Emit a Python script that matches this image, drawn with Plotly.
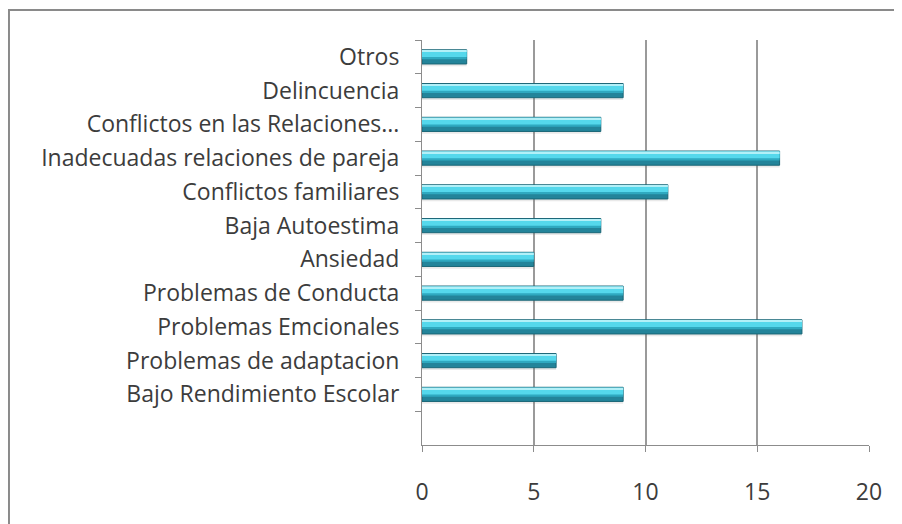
import plotly.graph_objects as go

categories = ["Bajo Rendimiento Escolar", "Problemas de adaptacion", "Problemas Emcionales",
              "Problemas de Conducta", "Ansiedad", "Baja Autoestima", "Conflictos familiares",
              "Inadecuadas relaciones de pareja", "Conflictos en las Relaciones...",
              "Delincuencia", "Otros"]
values = [9, 6, 17, 9, 5, 8, 11, 16, 8, 9, 2]
x_ticks = [0, 5, 10, 15, 20]

fig = go.Figure()
# shadow
fig.add_trace(go.Bar(y=categories, x=values, orientation="h", width=0.46, offset=-0.28,
                     marker=dict(color="rgba(120,120,120,0.16)", line=dict(width=0)),
                     hoverinfo="skip", showlegend=False))
# main (dark) body
fig.add_trace(go.Bar(y=categories, x=values, orientation="h", width=0.42, offset=-0.21,
                     marker=dict(color="#23849a", line=dict(color="#1a6676", width=1)),
                     showlegend=False))
# mid tone
fig.add_trace(go.Bar(y=categories, x=values, orientation="h", width=0.27, offset=-0.07,
                     marker=dict(color="#2fa9c0", line=dict(width=0)),
                     hoverinfo="skip", showlegend=False))
# highlight
fig.add_trace(go.Bar(y=categories, x=values, orientation="h", width=0.20, offset=0.0,
                     marker=dict(color="#55d8ec", line=dict(width=0)),
                     hoverinfo="skip", showlegend=False))
# top light rim
fig.add_trace(go.Bar(y=categories, x=values, orientation="h", width=0.05, offset=0.145,
                     marker=dict(color="#b2f0f8", line=dict(width=0)),
                     hoverinfo="skip", showlegend=False))

fig.update_layout(
    barmode="overlay",
    width=894, height=516,
    margin=dict(l=414, r=33, t=32, b=79),
    paper_bgcolor="white", plot_bgcolor="white",
    font=dict(family="Open Sans, sans-serif", color="#3c3c3c", size=23),
    xaxis=dict(range=[0, 20], tickvals=x_ticks, showgrid=True, gridcolor="#9a9a9a",
               gridwidth=1.5, zeroline=False, showline=True, linecolor="#8c8c8c",
               ticks="outside", ticklen=6, tickcolor="#8c8c8c", tickfont=dict(size=23),
               ticklabelstandoff=20),
    yaxis=dict(type="category", categoryorder="array", categoryarray=categories,
               range=[-1.5, 10.5], showgrid=False, zeroline=False, showline=True,
               linecolor="#8c8c8c", ticks="outside", tickson="boundaries", ticklen=6,
               tickcolor="#8c8c8c", tickfont=dict(size=23), ticklabelstandoff=17),
    shapes=[
        dict(type="line", xref="paper", yref="paper", x0=-0.93, x1=1.1, y0=1.074, y1=1.074,
             line=dict(color="#8a8a8a", width=2)),
        dict(type="line", xref="paper", yref="paper", x0=-0.924, x1=-0.924, y0=1.074, y1=-0.2,
             line=dict(color="#8a8a8a", width=2)),
    ],
)

fig.write_html("out.html")
